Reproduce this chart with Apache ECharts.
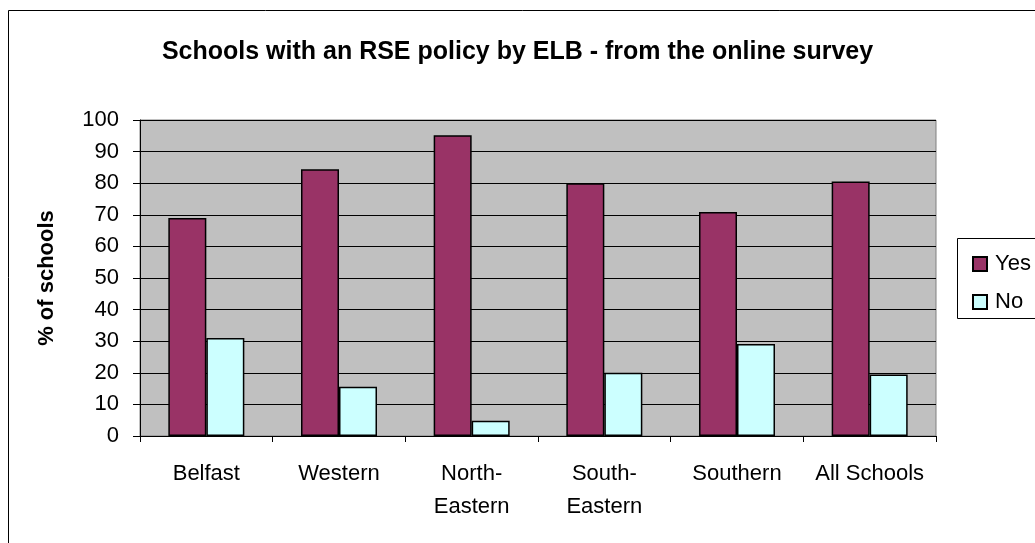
<!DOCTYPE html>
<html>
<head>
<meta charset="utf-8">
<script src="https://cdn.jsdelivr.net/npm/echarts@6/dist/echarts.min.js"></script>
<style>
html,body{margin:0;padding:0;background:#fff;}
#c{width:1035px;height:543px;}
</style>
</head>
<body>
<div id="c"></div>
<script>
const categories = ['Belfast', 'Western', 'North-\nEastern', 'South-\nEastern', 'Southern', 'All Schools'];
const yesValues = [69, 84.4, 95.2, 80, 70.9, 80.5];
const noValues = [31, 15.6, 4.8, 20, 29.1, 19.5];
const seriesNames = ['Yes', 'No'];
const titleText = 'Schools with an RSE policy by ELB - from the online survey';
const yAxisName = '% of schools';

const FONT = '"Liberation Sans", Arial, sans-serif';
const chart = echarts.init(document.getElementById('c'), null, {renderer: 'canvas'});
chart.setOption({
  animation: false,
  backgroundColor: '#ffffff',
  textStyle: {fontFamily: FONT, color: '#000'},
  title: {
    text: titleText,
    left: 'center',
    top: 35,
    textStyle: {fontFamily: FONT, fontSize: 25, fontWeight: 'bold', color: '#000'}
  },
  graphic: [
    {type: 'rect', shape: {x: 8.5, y: 10.5, width: 1100, height: 600},
     style: {fill: 'none', stroke: '#000', lineWidth: 1}, z: 0, silent: true},
    {type: 'rect', shape: {x: 957.5, y: 238.5, width: 200, height: 80},
     style: {fill: '#fff', stroke: '#000', lineWidth: 1}, z: 1, silent: true}
  ],
  legend: {
    orient: 'vertical',
    left: 967,
    top: 248,
    itemWidth: 14,
    itemHeight: 14,
    itemGap: 16,
    icon: 'rect',
    z: 5,
    textStyle: {fontFamily: FONT, fontSize: 22, color: '#000', padding: [0, 0, 0, 3]},
    data: seriesNames
  },
  grid: {
    left: 140, right: 99, top: 120, bottom: 107,
    show: true, backgroundColor: '#C0C0C0', borderColor: '#808080', borderWidth: 1,
    containLabel: false
  },
  xAxis: {
    type: 'category',
    data: categories,
    boundaryGap: true,
    axisLine: {show: true, lineStyle: {color: '#000', width: 1}},
    axisTick: {show: true, length: 6, inside: false, lineStyle: {color: '#000'}},
    axisLabel: {fontFamily: FONT, fontSize: 22, color: '#000', margin: 21, lineHeight: 33, interval: 0},
    splitLine: {show: false}
  },
  yAxis: {
    type: 'value',
    min: 0, max: 100, interval: 10,
    name: yAxisName,
    nameLocation: 'middle',
    nameGap: 82,
    nameTextStyle: {fontFamily: FONT, fontSize: 22, fontWeight: 'bold', color: '#000'},
    axisLine: {show: true, lineStyle: {color: '#000', width: 1}},
    axisTick: {show: true, length: 7, lineStyle: {color: '#000'}},
    axisLabel: {fontFamily: FONT, fontSize: 22, color: '#000', margin: 21},
    splitLine: {show: true, lineStyle: {color: '#000', width: 1}}
  },
  series: [
    {name: seriesNames[0], type: 'bar', data: yesValues, barWidth: 38, barGap: '0%',
     itemStyle: {color: '#993366', borderColor: '#000', borderWidth: 1.5}},
    {name: seriesNames[1], type: 'bar', data: noValues, barWidth: 38, barGap: '0%',
     itemStyle: {color: '#CCFFFF', borderColor: '#000', borderWidth: 1.5}}
  ]
});
</script>
</body>
</html>
